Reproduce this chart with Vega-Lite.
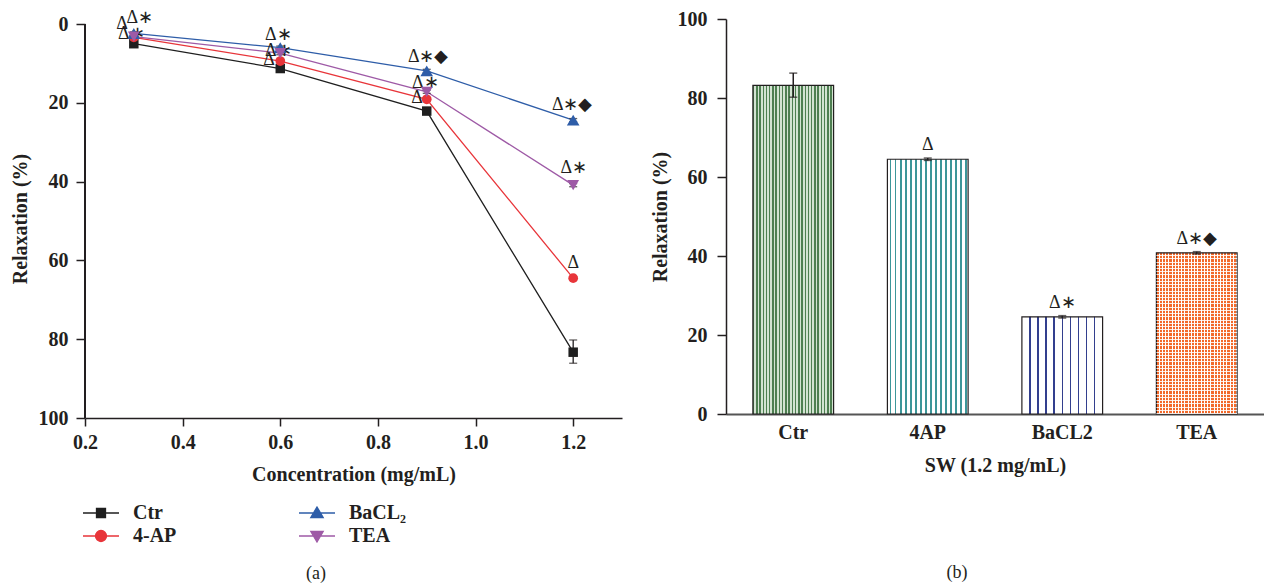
{
 "$schema": "https://vega.github.io/schema/vega-lite/v6.json",
 "padding": {"left": 10, "top": 9, "right": 0, "bottom": 0},
 "background": "white",
 "spacing": 28,
 "config": {
  "view": {"stroke": null},
  "font": "Liberation Serif",
  "axis": {"domainColor": "#231f20", "tickColor": "#231f20", "labelColor": "#231f20", "titleColor": "#231f20", "labelFont": "Liberation Serif", "titleFont": "Liberation Serif", "labelFontWeight": "bold", "titleFontWeight": "bold", "labelFontSize": 20, "titleFontSize": 20, "grid": false, "domainWidth": 1.5, "tickWidth": 1.5, "labelFlush": false},
  "legend": {"labelFont": "Liberation Serif", "labelFontWeight": "bold", "labelFontSize": 20, "labelColor": "#231f20", "padding": 0}
 },
 "datasets": {
  "curve": [
   {"series": "Ctr", "conc": 0.3, "value": 5.0, "lo": 4.6, "hi": 5.4},
   {"series": "Ctr", "conc": 0.6, "value": 11.3, "lo": 10.9, "hi": 11.7},
   {"series": "Ctr", "conc": 0.9, "value": 22.1, "lo": 21.7, "hi": 22.5},
   {"series": "Ctr", "conc": 1.2, "value": 83.3, "lo": 80.2, "hi": 86.1},
   {"series": "4-AP", "conc": 0.3, "value": 3.4, "lo": 3.0, "hi": 3.8},
   {"series": "4-AP", "conc": 0.6, "value": 9.4, "lo": 9.0, "hi": 9.8},
   {"series": "4-AP", "conc": 0.9, "value": 19.1, "lo": 18.7, "hi": 19.5},
   {"series": "4-AP", "conc": 1.2, "value": 64.5, "lo": 64.1, "hi": 64.9},
   {"series": "BaCL₂", "conc": 0.3, "value": 2.4, "lo": 2.0, "hi": 2.8},
   {"series": "BaCL₂", "conc": 0.6, "value": 6.0, "lo": 5.6, "hi": 6.4},
   {"series": "BaCL₂", "conc": 0.9, "value": 11.9, "lo": 11.5, "hi": 12.3},
   {"series": "BaCL₂", "conc": 1.2, "value": 24.4, "lo": 24.0, "hi": 24.8},
   {"series": "TEA", "conc": 0.3, "value": 3.2, "lo": 2.8, "hi": 3.6},
   {"series": "TEA", "conc": 0.6, "value": 7.4, "lo": 7.0, "hi": 7.8},
   {"series": "TEA", "conc": 0.9, "value": 17.2, "lo": 16.8, "hi": 17.6},
   {"series": "TEA", "conc": 1.2, "value": 40.9, "lo": 40.5, "hi": 41.3}
  ],
  "annL": [
   {"x": 0.312, "y": -1.5, "t": "Δ∗"},
   {"x": 0.276, "y": 0.0, "t": "Δ"},
   {"x": 0.295, "y": 2.5, "t": "Δ∗"},
   {"x": 0.596, "y": 2.8, "t": "Δ∗"},
   {"x": 0.596, "y": 6.9, "t": "Δ∗"},
   {"x": 0.577, "y": 9.1, "t": "Δ"},
   {"x": 0.903, "y": 8.3, "t": "Δ∗◆"},
   {"x": 0.897, "y": 15.1, "t": "Δ∗"},
   {"x": 0.88, "y": 18.9, "t": "Δ"},
   {"x": 1.198, "y": 20.6, "t": "Δ∗◆"},
   {"x": 1.201, "y": 36.6, "t": "Δ∗"},
   {"x": 1.2, "y": 60.7, "t": "Δ"}
  ],
  "bars": [
   {"group": "Ctr", "value": 83.2, "lo": 80.2, "hi": 86.3, "label": ""},
   {"group": "4AP", "value": 64.5, "lo": 64.2, "hi": 64.8, "label": "Δ"},
   {"group": "BaCL2", "value": 24.6, "lo": 24.3, "hi": 24.9, "label": "Δ∗"},
   {"group": "TEA", "value": 40.8, "lo": 40.5, "hi": 41.1, "label": "Δ∗◆"}
  ]
 },
 "hconcat": [
  {
   "width": 537,
   "height": 399,
   "title": {"text": "(a)", "orient": "bottom", "anchor": "middle", "frame": "bounds", "offset": 81, "font": "Liberation Serif", "fontSize": 18, "fontWeight": "normal", "color": "#231f20"},
   "data": {"name": "curve"},
   "layer": [
    {
     "mark": {"type": "rule", "color": "#231f20", "strokeWidth": 1.5},
     "encoding": {
      "x": {"datum": 0.2, "type": "quantitative", "scale": {"domain": [0.2, 1.3], "nice": false, "zero": false}, "title": "Concentration (mg/mL)"},
      "y": {"datum": 0, "type": "quantitative", "scale": {"domain": [-1.27, 100], "reverse": true, "nice": false, "zero": false}, "title": "Relaxation (%)"},
      "y2": {"datum": 100}
     }
    },
    {
     "mark": {"type": "line", "strokeWidth": 1.3},
     "encoding": {
      "x": {"field": "conc", "type": "quantitative", "scale": {"domain": [0.2, 1.3], "nice": false, "zero": false}, "title": "Concentration (mg/mL)", "axis": {"values": [0.2, 0.4, 0.6, 0.8, 1.0, 1.2], "format": ".1f", "tickSize": 8, "labelPadding": 6, "titlePadding": 12}},
      "y": {"field": "value", "type": "quantitative", "scale": {"domain": [-1.27, 100], "reverse": true, "nice": false, "zero": false}, "title": "Relaxation (%)", "axis": {"domain": false, "values": [0, 10, 20, 30, 40, 50, 60, 70, 80, 90, 100], "labelExpr": "datum.value % 20 === 0 ? datum.label : ''", "tickSize": {"condition": {"test": "datum.value % 20 === 0", "value": 9}, "value": 6}, "labelPadding": 8, "titlePadding": 8}},
      "color": {"field": "series", "type": "nominal", "scale": {"domain": ["TEA", "Ctr", "4-AP", "BaCL₂"], "range": ["#9e5aa6", "#1f1f1f", "#e8353a", "#2e5da8"]}, "legend": null}
     }
    },
    {
     "mark": {"type": "errorbar", "ticks": {"size": 8}, "color": "#231f20", "thickness": 1.3},
     "encoding": {
      "x": {"field": "conc", "type": "quantitative", "scale": {"domain": [0.2, 1.3], "nice": false, "zero": false}, "title": "Concentration (mg/mL)"},
      "y": {"field": "lo", "type": "quantitative", "scale": {"domain": [-1.27, 100], "reverse": true, "nice": false, "zero": false}, "title": "Relaxation (%)"},
      "y2": {"field": "hi"}
     }
    },
    {
     "data": {"name": "annL"},
     "mark": {"type": "text", "font": "Liberation Serif", "fontSize": 18, "baseline": "middle", "color": "#231f20"},
     "encoding": {
      "x": {"field": "x", "type": "quantitative", "scale": {"domain": [0.2, 1.3], "nice": false, "zero": false}, "title": "Concentration (mg/mL)"},
      "y": {"field": "y", "type": "quantitative", "scale": {"domain": [-1.27, 100], "reverse": true, "nice": false, "zero": false}, "title": "Relaxation (%)"},
      "text": {"field": "t"}
     }
    },
    {
     "mark": {"type": "point", "filled": true, "opacity": 1},
     "encoding": {
      "x": {"field": "conc", "type": "quantitative", "scale": {"domain": [0.2, 1.3], "nice": false, "zero": false}, "title": "Concentration (mg/mL)"},
      "y": {"field": "value", "type": "quantitative", "scale": {"domain": [-1.27, 100], "reverse": true, "nice": false, "zero": false}, "title": "Relaxation (%)"},
      "color": {"field": "series", "type": "nominal", "scale": {"domain": ["TEA", "Ctr", "4-AP", "BaCL₂"], "range": ["#9e5aa6", "#1f1f1f", "#e8353a", "#2e5da8"]}, "legend": null},
      "shape": {"condition": [{"test": "datum.series === 'Ctr'", "value": "square"}, {"test": "datum.series === '4-AP'", "value": "circle"}, {"test": "datum.series === 'BaCL₂'", "value": "triangle-up"}], "value": "triangle-down"},
      "size": {"condition": [{"test": "datum.series === 'Ctr'", "value": 90}, {"test": "datum.series === '4-AP'", "value": 95}, {"test": "datum.series === 'BaCL₂'", "value": 160}], "value": 140}
     }
    },
    {
     "transform": [{"filter": "datum.conc > 10"}],
     "mark": {"type": "point", "filled": true, "opacity": 1},
     "encoding": {
      "x": {"field": "conc", "type": "quantitative", "scale": {"domain": [0.2, 1.3], "nice": false, "zero": false}, "title": "Concentration (mg/mL)"},
      "y": {"field": "value", "type": "quantitative", "scale": {"domain": [-1.27, 100], "reverse": true, "nice": false, "zero": false}, "title": "Relaxation (%)"},
      "fill": {"field": "series", "type": "nominal", "scale": {"domain": ["Ctr", "4-AP", "BaCL₂", "TEA"], "range": ["#1f1f1f", "#e8353a", "#2e5da8", "#9e5aa6"]}, "legend": {"orient": "none", "legendX": 5, "legendY": 483, "columns": 2, "title": null, "symbolSize": 400, "symbolStrokeWidth": 1.3, "symbolOpacity": 1, "labelOffset": 21, "rowPadding": 2, "columnPadding": 119}},
      "stroke": {"field": "series", "type": "nominal", "scale": {"domain": ["Ctr", "4-AP", "BaCL₂", "TEA"], "range": ["#1f1f1f", "#e8353a", "#2e5da8", "#9e5aa6"]}, "legend": {"orient": "none", "legendX": 5, "legendY": 483, "columns": 2, "title": null, "symbolSize": 400, "symbolStrokeWidth": 1.3, "symbolOpacity": 1, "labelOffset": 21, "rowPadding": 2, "columnPadding": 119}},
      "shape": {"field": "series", "type": "nominal", "scale": {"domain": ["Ctr", "4-AP", "BaCL₂", "TEA"], "range": ["M-1.8,0H1.8M-0.45,-0.45H0.45V0.45H-0.45Z", "M-1.8,0H1.8M-0.55,0A0.55,0.55,0,1,0,0.55,0A0.55,0.55,0,1,0,-0.55,0Z", "M-1.8,0H1.8M0,-0.6L0.62,0.45H-0.62Z", "M-1.8,0H1.8M0,0.6L0.62,-0.45H-0.62Z"]}, "legend": {"orient": "none", "legendX": 5, "legendY": 483, "columns": 2, "title": null, "symbolSize": 400, "symbolStrokeWidth": 1.3, "symbolOpacity": 1, "labelOffset": 21, "rowPadding": 2, "columnPadding": 119}}
     }
    }
   ]
  },
  {
   "width": 538,
   "height": 395,
   "title": {"text": "(b)", "orient": "bottom", "anchor": "middle", "frame": "bounds", "offset": 89, "font": "Liberation Serif", "fontSize": 18, "fontWeight": "normal", "color": "#231f20"},
   "data": {"name": "bars"},
   "encoding": {
    "x": {"field": "group", "type": "nominal", "scale": {"domain": ["Ctr", "4AP", "BaCL2", "TEA"], "paddingInner": 0.4, "paddingOuter": 0.2}, "title": "SW (1.2 mg/mL)", "axis": {"ticks": false, "labelAngle": 0, "labelPadding": 8, "titlePadding": 13, "domainColor": "#555555", "domainWidth": 2}},
    "y": {"field": "value", "type": "quantitative", "scale": {"domain": [0, 100], "nice": false}, "title": "Relaxation (%)", "axis": {"values": [0, 20, 40, 60, 80, 100], "tickSize": 9, "labelPadding": 10, "titlePadding": 7}}
   },
   "layer": [
    {
     "transform": [{"filter": "datum.group === 'Ctr'"}],
     "mark": {"type": "bar", "opacity": 1, "stroke": "#231f20", "strokeWidth": 1.2, "fill": {"gradient": "linear", "x1": 0, "y1": 0, "x2": 1, "y2": 0, "stops": [
      {"offset": 0, "color": "#4e7f51"}, {"offset": 0.018, "color": "#4e7f51"}, {"offset": 0.018, "color": "#d3e3d2"}, {"offset": 0.04, "color": "#d3e3d2"},
      {"offset": 0.04, "color": "#4e7f51"}, {"offset": 0.058, "color": "#4e7f51"}, {"offset": 0.058, "color": "#d3e3d2"}, {"offset": 0.08, "color": "#d3e3d2"},
      {"offset": 0.08, "color": "#4e7f51"}, {"offset": 0.098, "color": "#4e7f51"}, {"offset": 0.098, "color": "#d3e3d2"}, {"offset": 0.12, "color": "#d3e3d2"},
      {"offset": 0.12, "color": "#4e7f51"}, {"offset": 0.138, "color": "#4e7f51"}, {"offset": 0.138, "color": "#d3e3d2"}, {"offset": 0.16, "color": "#d3e3d2"},
      {"offset": 0.16, "color": "#4e7f51"}, {"offset": 0.178, "color": "#4e7f51"}, {"offset": 0.178, "color": "#d3e3d2"}, {"offset": 0.2, "color": "#d3e3d2"},
      {"offset": 0.2, "color": "#4e7f51"}, {"offset": 0.218, "color": "#4e7f51"}, {"offset": 0.218, "color": "#d3e3d2"}, {"offset": 0.24, "color": "#d3e3d2"},
      {"offset": 0.24, "color": "#4e7f51"}, {"offset": 0.258, "color": "#4e7f51"}, {"offset": 0.258, "color": "#d3e3d2"}, {"offset": 0.28, "color": "#d3e3d2"},
      {"offset": 0.28, "color": "#4e7f51"}, {"offset": 0.298, "color": "#4e7f51"}, {"offset": 0.298, "color": "#d3e3d2"}, {"offset": 0.32, "color": "#d3e3d2"},
      {"offset": 0.32, "color": "#4e7f51"}, {"offset": 0.338, "color": "#4e7f51"}, {"offset": 0.338, "color": "#d3e3d2"}, {"offset": 0.36, "color": "#d3e3d2"},
      {"offset": 0.36, "color": "#4e7f51"}, {"offset": 0.378, "color": "#4e7f51"}, {"offset": 0.378, "color": "#d3e3d2"}, {"offset": 0.4, "color": "#d3e3d2"},
      {"offset": 0.4, "color": "#4e7f51"}, {"offset": 0.418, "color": "#4e7f51"}, {"offset": 0.418, "color": "#d3e3d2"}, {"offset": 0.44, "color": "#d3e3d2"},
      {"offset": 0.44, "color": "#4e7f51"}, {"offset": 0.458, "color": "#4e7f51"}, {"offset": 0.458, "color": "#d3e3d2"}, {"offset": 0.48, "color": "#d3e3d2"},
      {"offset": 0.48, "color": "#4e7f51"}, {"offset": 0.498, "color": "#4e7f51"}, {"offset": 0.498, "color": "#d3e3d2"}, {"offset": 0.52, "color": "#d3e3d2"},
      {"offset": 0.52, "color": "#4e7f51"}, {"offset": 0.538, "color": "#4e7f51"}, {"offset": 0.538, "color": "#d3e3d2"}, {"offset": 0.56, "color": "#d3e3d2"},
      {"offset": 0.56, "color": "#4e7f51"}, {"offset": 0.578, "color": "#4e7f51"}, {"offset": 0.578, "color": "#d3e3d2"}, {"offset": 0.6, "color": "#d3e3d2"},
      {"offset": 0.6, "color": "#4e7f51"}, {"offset": 0.618, "color": "#4e7f51"}, {"offset": 0.618, "color": "#d3e3d2"}, {"offset": 0.64, "color": "#d3e3d2"},
      {"offset": 0.64, "color": "#4e7f51"}, {"offset": 0.658, "color": "#4e7f51"}, {"offset": 0.658, "color": "#d3e3d2"}, {"offset": 0.68, "color": "#d3e3d2"},
      {"offset": 0.68, "color": "#4e7f51"}, {"offset": 0.698, "color": "#4e7f51"}, {"offset": 0.698, "color": "#d3e3d2"}, {"offset": 0.72, "color": "#d3e3d2"},
      {"offset": 0.72, "color": "#4e7f51"}, {"offset": 0.738, "color": "#4e7f51"}, {"offset": 0.738, "color": "#d3e3d2"}, {"offset": 0.76, "color": "#d3e3d2"},
      {"offset": 0.76, "color": "#4e7f51"}, {"offset": 0.778, "color": "#4e7f51"}, {"offset": 0.778, "color": "#d3e3d2"}, {"offset": 0.8, "color": "#d3e3d2"},
      {"offset": 0.8, "color": "#4e7f51"}, {"offset": 0.818, "color": "#4e7f51"}, {"offset": 0.818, "color": "#d3e3d2"}, {"offset": 0.84, "color": "#d3e3d2"},
      {"offset": 0.84, "color": "#4e7f51"}, {"offset": 0.858, "color": "#4e7f51"}, {"offset": 0.858, "color": "#d3e3d2"}, {"offset": 0.88, "color": "#d3e3d2"},
      {"offset": 0.88, "color": "#4e7f51"}, {"offset": 0.898, "color": "#4e7f51"}, {"offset": 0.898, "color": "#d3e3d2"}, {"offset": 0.92, "color": "#d3e3d2"},
      {"offset": 0.92, "color": "#4e7f51"}, {"offset": 0.938, "color": "#4e7f51"}, {"offset": 0.938, "color": "#d3e3d2"}, {"offset": 0.96, "color": "#d3e3d2"},
      {"offset": 0.96, "color": "#4e7f51"}, {"offset": 0.978, "color": "#4e7f51"}, {"offset": 0.978, "color": "#d3e3d2"}, {"offset": 1, "color": "#d3e3d2"}
     ]}}
    },
    {
     "transform": [{"filter": "datum.group === '4AP'"}],
     "mark": {"type": "bar", "opacity": 1, "stroke": "#231f20", "strokeWidth": 1.2, "fill": {"gradient": "linear", "x1": 0, "y1": 0, "x2": 1, "y2": 0, "stops": [
      {"offset": 0, "color": "#ffffff"},
      {"offset": 0.03, "color": "#ffffff"}, {"offset": 0.03, "color": "#3d9699"}, {"offset": 0.05, "color": "#3d9699"}, {"offset": 0.05, "color": "#ffffff"},
      {"offset": 0.0925, "color": "#ffffff"}, {"offset": 0.0925, "color": "#3d9699"}, {"offset": 0.1125, "color": "#3d9699"}, {"offset": 0.1125, "color": "#ffffff"},
      {"offset": 0.155, "color": "#ffffff"}, {"offset": 0.155, "color": "#3d9699"}, {"offset": 0.175, "color": "#3d9699"}, {"offset": 0.175, "color": "#ffffff"},
      {"offset": 0.2175, "color": "#ffffff"}, {"offset": 0.2175, "color": "#3d9699"}, {"offset": 0.2375, "color": "#3d9699"}, {"offset": 0.2375, "color": "#ffffff"},
      {"offset": 0.28, "color": "#ffffff"}, {"offset": 0.28, "color": "#3d9699"}, {"offset": 0.3, "color": "#3d9699"}, {"offset": 0.3, "color": "#ffffff"},
      {"offset": 0.3425, "color": "#ffffff"}, {"offset": 0.3425, "color": "#3d9699"}, {"offset": 0.3625, "color": "#3d9699"}, {"offset": 0.3625, "color": "#ffffff"},
      {"offset": 0.405, "color": "#ffffff"}, {"offset": 0.405, "color": "#3d9699"}, {"offset": 0.425, "color": "#3d9699"}, {"offset": 0.425, "color": "#ffffff"},
      {"offset": 0.4675, "color": "#ffffff"}, {"offset": 0.4675, "color": "#3d9699"}, {"offset": 0.4875, "color": "#3d9699"}, {"offset": 0.4875, "color": "#ffffff"},
      {"offset": 0.53, "color": "#ffffff"}, {"offset": 0.53, "color": "#3d9699"}, {"offset": 0.55, "color": "#3d9699"}, {"offset": 0.55, "color": "#ffffff"},
      {"offset": 0.5925, "color": "#ffffff"}, {"offset": 0.5925, "color": "#3d9699"}, {"offset": 0.6125, "color": "#3d9699"}, {"offset": 0.6125, "color": "#ffffff"},
      {"offset": 0.655, "color": "#ffffff"}, {"offset": 0.655, "color": "#3d9699"}, {"offset": 0.675, "color": "#3d9699"}, {"offset": 0.675, "color": "#ffffff"},
      {"offset": 0.7175, "color": "#ffffff"}, {"offset": 0.7175, "color": "#3d9699"}, {"offset": 0.7375, "color": "#3d9699"}, {"offset": 0.7375, "color": "#ffffff"},
      {"offset": 0.78, "color": "#ffffff"}, {"offset": 0.78, "color": "#3d9699"}, {"offset": 0.8, "color": "#3d9699"}, {"offset": 0.8, "color": "#ffffff"},
      {"offset": 0.8425, "color": "#ffffff"}, {"offset": 0.8425, "color": "#3d9699"}, {"offset": 0.8625, "color": "#3d9699"}, {"offset": 0.8625, "color": "#ffffff"},
      {"offset": 0.905, "color": "#ffffff"}, {"offset": 0.905, "color": "#3d9699"}, {"offset": 0.925, "color": "#3d9699"}, {"offset": 0.925, "color": "#ffffff"},
      {"offset": 0.9675, "color": "#ffffff"}, {"offset": 0.9675, "color": "#3d9699"}, {"offset": 0.9875, "color": "#3d9699"}, {"offset": 0.9875, "color": "#ffffff"},
      {"offset": 1, "color": "#ffffff"}
     ]}}
    },
    {
     "transform": [{"filter": "datum.group === 'BaCL2'"}],
     "mark": {"type": "bar", "opacity": 1, "stroke": "#231f20", "strokeWidth": 1.2, "fill": {"gradient": "linear", "x1": 0, "y1": 0, "x2": 1, "y2": 0, "stops": [
      {"offset": 0, "color": "#ffffff"},
      {"offset": 0.091, "color": "#ffffff"}, {"offset": 0.091, "color": "#333f8e"}, {"offset": 0.109, "color": "#333f8e"}, {"offset": 0.109, "color": "#ffffff"},
      {"offset": 0.191, "color": "#ffffff"}, {"offset": 0.191, "color": "#333f8e"}, {"offset": 0.209, "color": "#333f8e"}, {"offset": 0.209, "color": "#ffffff"},
      {"offset": 0.291, "color": "#ffffff"}, {"offset": 0.291, "color": "#333f8e"}, {"offset": 0.309, "color": "#333f8e"}, {"offset": 0.309, "color": "#ffffff"},
      {"offset": 0.391, "color": "#ffffff"}, {"offset": 0.391, "color": "#333f8e"}, {"offset": 0.409, "color": "#333f8e"}, {"offset": 0.409, "color": "#ffffff"},
      {"offset": 0.491, "color": "#ffffff"}, {"offset": 0.491, "color": "#333f8e"}, {"offset": 0.509, "color": "#333f8e"}, {"offset": 0.509, "color": "#ffffff"},
      {"offset": 0.591, "color": "#ffffff"}, {"offset": 0.591, "color": "#333f8e"}, {"offset": 0.609, "color": "#333f8e"}, {"offset": 0.609, "color": "#ffffff"},
      {"offset": 0.691, "color": "#ffffff"}, {"offset": 0.691, "color": "#333f8e"}, {"offset": 0.709, "color": "#333f8e"}, {"offset": 0.709, "color": "#ffffff"},
      {"offset": 0.791, "color": "#ffffff"}, {"offset": 0.791, "color": "#333f8e"}, {"offset": 0.809, "color": "#333f8e"}, {"offset": 0.809, "color": "#ffffff"},
      {"offset": 0.891, "color": "#ffffff"}, {"offset": 0.891, "color": "#333f8e"}, {"offset": 0.909, "color": "#333f8e"}, {"offset": 0.909, "color": "#ffffff"},
      {"offset": 1, "color": "#ffffff"}
     ]}}
    },
    {
     "transform": [{"filter": "datum.group === 'TEA'"}],
     "mark": {"type": "bar", "opacity": 1, "stroke": "#231f20", "strokeWidth": 1.2, "fill": {"gradient": "linear", "x1": 0, "y1": 0, "x2": 1, "y2": 0, "stops": [
      {"offset": 0, "color": "#f2692a"}, {"offset": 0.028, "color": "#f2692a"}, {"offset": 0.028, "color": "#ffffff"}, {"offset": 0.04, "color": "#ffffff"},
      {"offset": 0.04, "color": "#f2692a"}, {"offset": 0.068, "color": "#f2692a"}, {"offset": 0.068, "color": "#ffffff"}, {"offset": 0.08, "color": "#ffffff"},
      {"offset": 0.08, "color": "#f2692a"}, {"offset": 0.108, "color": "#f2692a"}, {"offset": 0.108, "color": "#ffffff"}, {"offset": 0.12, "color": "#ffffff"},
      {"offset": 0.12, "color": "#f2692a"}, {"offset": 0.148, "color": "#f2692a"}, {"offset": 0.148, "color": "#ffffff"}, {"offset": 0.16, "color": "#ffffff"},
      {"offset": 0.16, "color": "#f2692a"}, {"offset": 0.188, "color": "#f2692a"}, {"offset": 0.188, "color": "#ffffff"}, {"offset": 0.2, "color": "#ffffff"},
      {"offset": 0.2, "color": "#f2692a"}, {"offset": 0.228, "color": "#f2692a"}, {"offset": 0.228, "color": "#ffffff"}, {"offset": 0.24, "color": "#ffffff"},
      {"offset": 0.24, "color": "#f2692a"}, {"offset": 0.268, "color": "#f2692a"}, {"offset": 0.268, "color": "#ffffff"}, {"offset": 0.28, "color": "#ffffff"},
      {"offset": 0.28, "color": "#f2692a"}, {"offset": 0.308, "color": "#f2692a"}, {"offset": 0.308, "color": "#ffffff"}, {"offset": 0.32, "color": "#ffffff"},
      {"offset": 0.32, "color": "#f2692a"}, {"offset": 0.348, "color": "#f2692a"}, {"offset": 0.348, "color": "#ffffff"}, {"offset": 0.36, "color": "#ffffff"},
      {"offset": 0.36, "color": "#f2692a"}, {"offset": 0.388, "color": "#f2692a"}, {"offset": 0.388, "color": "#ffffff"}, {"offset": 0.4, "color": "#ffffff"},
      {"offset": 0.4, "color": "#f2692a"}, {"offset": 0.428, "color": "#f2692a"}, {"offset": 0.428, "color": "#ffffff"}, {"offset": 0.44, "color": "#ffffff"},
      {"offset": 0.44, "color": "#f2692a"}, {"offset": 0.468, "color": "#f2692a"}, {"offset": 0.468, "color": "#ffffff"}, {"offset": 0.48, "color": "#ffffff"},
      {"offset": 0.48, "color": "#f2692a"}, {"offset": 0.508, "color": "#f2692a"}, {"offset": 0.508, "color": "#ffffff"}, {"offset": 0.52, "color": "#ffffff"},
      {"offset": 0.52, "color": "#f2692a"}, {"offset": 0.548, "color": "#f2692a"}, {"offset": 0.548, "color": "#ffffff"}, {"offset": 0.56, "color": "#ffffff"},
      {"offset": 0.56, "color": "#f2692a"}, {"offset": 0.588, "color": "#f2692a"}, {"offset": 0.588, "color": "#ffffff"}, {"offset": 0.6, "color": "#ffffff"},
      {"offset": 0.6, "color": "#f2692a"}, {"offset": 0.628, "color": "#f2692a"}, {"offset": 0.628, "color": "#ffffff"}, {"offset": 0.64, "color": "#ffffff"},
      {"offset": 0.64, "color": "#f2692a"}, {"offset": 0.668, "color": "#f2692a"}, {"offset": 0.668, "color": "#ffffff"}, {"offset": 0.68, "color": "#ffffff"},
      {"offset": 0.68, "color": "#f2692a"}, {"offset": 0.708, "color": "#f2692a"}, {"offset": 0.708, "color": "#ffffff"}, {"offset": 0.72, "color": "#ffffff"},
      {"offset": 0.72, "color": "#f2692a"}, {"offset": 0.748, "color": "#f2692a"}, {"offset": 0.748, "color": "#ffffff"}, {"offset": 0.76, "color": "#ffffff"},
      {"offset": 0.76, "color": "#f2692a"}, {"offset": 0.788, "color": "#f2692a"}, {"offset": 0.788, "color": "#ffffff"}, {"offset": 0.8, "color": "#ffffff"},
      {"offset": 0.8, "color": "#f2692a"}, {"offset": 0.828, "color": "#f2692a"}, {"offset": 0.828, "color": "#ffffff"}, {"offset": 0.84, "color": "#ffffff"},
      {"offset": 0.84, "color": "#f2692a"}, {"offset": 0.868, "color": "#f2692a"}, {"offset": 0.868, "color": "#ffffff"}, {"offset": 0.88, "color": "#ffffff"},
      {"offset": 0.88, "color": "#f2692a"}, {"offset": 0.908, "color": "#f2692a"}, {"offset": 0.908, "color": "#ffffff"}, {"offset": 0.92, "color": "#ffffff"},
      {"offset": 0.92, "color": "#f2692a"}, {"offset": 0.948, "color": "#f2692a"}, {"offset": 0.948, "color": "#ffffff"}, {"offset": 0.96, "color": "#ffffff"},
      {"offset": 0.96, "color": "#f2692a"}, {"offset": 0.988, "color": "#f2692a"}, {"offset": 0.988, "color": "#ffffff"}, {"offset": 1, "color": "#ffffff"}
     ]}}
    },
    {
     "transform": [{"filter": "datum.group === 'TEA'"}],
     "mark": {"type": "bar", "opacity": 1, "strokeWidth": 0, "fill": {"gradient": "linear", "x1": 0, "y1": 0, "x2": 0, "y2": 1, "stops": [
      {"offset": 0, "color": "rgba(255,255,255,0)"}, {"offset": 0.014, "color": "rgba(255,255,255,0)"}, {"offset": 0.014, "color": "rgba(255,255,255,0.85)"}, {"offset": 0.02, "color": "rgba(255,255,255,0.85)"},
      {"offset": 0.02, "color": "rgba(255,255,255,0)"}, {"offset": 0.034, "color": "rgba(255,255,255,0)"}, {"offset": 0.034, "color": "rgba(255,255,255,0.85)"}, {"offset": 0.04, "color": "rgba(255,255,255,0.85)"},
      {"offset": 0.04, "color": "rgba(255,255,255,0)"}, {"offset": 0.054, "color": "rgba(255,255,255,0)"}, {"offset": 0.054, "color": "rgba(255,255,255,0.85)"}, {"offset": 0.06, "color": "rgba(255,255,255,0.85)"},
      {"offset": 0.06, "color": "rgba(255,255,255,0)"}, {"offset": 0.074, "color": "rgba(255,255,255,0)"}, {"offset": 0.074, "color": "rgba(255,255,255,0.85)"}, {"offset": 0.08, "color": "rgba(255,255,255,0.85)"},
      {"offset": 0.08, "color": "rgba(255,255,255,0)"}, {"offset": 0.094, "color": "rgba(255,255,255,0)"}, {"offset": 0.094, "color": "rgba(255,255,255,0.85)"}, {"offset": 0.1, "color": "rgba(255,255,255,0.85)"},
      {"offset": 0.1, "color": "rgba(255,255,255,0)"}, {"offset": 0.114, "color": "rgba(255,255,255,0)"}, {"offset": 0.114, "color": "rgba(255,255,255,0.85)"}, {"offset": 0.12, "color": "rgba(255,255,255,0.85)"},
      {"offset": 0.12, "color": "rgba(255,255,255,0)"}, {"offset": 0.134, "color": "rgba(255,255,255,0)"}, {"offset": 0.134, "color": "rgba(255,255,255,0.85)"}, {"offset": 0.14, "color": "rgba(255,255,255,0.85)"},
      {"offset": 0.14, "color": "rgba(255,255,255,0)"}, {"offset": 0.154, "color": "rgba(255,255,255,0)"}, {"offset": 0.154, "color": "rgba(255,255,255,0.85)"}, {"offset": 0.16, "color": "rgba(255,255,255,0.85)"},
      {"offset": 0.16, "color": "rgba(255,255,255,0)"}, {"offset": 0.174, "color": "rgba(255,255,255,0)"}, {"offset": 0.174, "color": "rgba(255,255,255,0.85)"}, {"offset": 0.18, "color": "rgba(255,255,255,0.85)"},
      {"offset": 0.18, "color": "rgba(255,255,255,0)"}, {"offset": 0.194, "color": "rgba(255,255,255,0)"}, {"offset": 0.194, "color": "rgba(255,255,255,0.85)"}, {"offset": 0.2, "color": "rgba(255,255,255,0.85)"},
      {"offset": 0.2, "color": "rgba(255,255,255,0)"}, {"offset": 0.214, "color": "rgba(255,255,255,0)"}, {"offset": 0.214, "color": "rgba(255,255,255,0.85)"}, {"offset": 0.22, "color": "rgba(255,255,255,0.85)"},
      {"offset": 0.22, "color": "rgba(255,255,255,0)"}, {"offset": 0.234, "color": "rgba(255,255,255,0)"}, {"offset": 0.234, "color": "rgba(255,255,255,0.85)"}, {"offset": 0.24, "color": "rgba(255,255,255,0.85)"},
      {"offset": 0.24, "color": "rgba(255,255,255,0)"}, {"offset": 0.254, "color": "rgba(255,255,255,0)"}, {"offset": 0.254, "color": "rgba(255,255,255,0.85)"}, {"offset": 0.26, "color": "rgba(255,255,255,0.85)"},
      {"offset": 0.26, "color": "rgba(255,255,255,0)"}, {"offset": 0.274, "color": "rgba(255,255,255,0)"}, {"offset": 0.274, "color": "rgba(255,255,255,0.85)"}, {"offset": 0.28, "color": "rgba(255,255,255,0.85)"},
      {"offset": 0.28, "color": "rgba(255,255,255,0)"}, {"offset": 0.294, "color": "rgba(255,255,255,0)"}, {"offset": 0.294, "color": "rgba(255,255,255,0.85)"}, {"offset": 0.3, "color": "rgba(255,255,255,0.85)"},
      {"offset": 0.3, "color": "rgba(255,255,255,0)"}, {"offset": 0.314, "color": "rgba(255,255,255,0)"}, {"offset": 0.314, "color": "rgba(255,255,255,0.85)"}, {"offset": 0.32, "color": "rgba(255,255,255,0.85)"},
      {"offset": 0.32, "color": "rgba(255,255,255,0)"}, {"offset": 0.334, "color": "rgba(255,255,255,0)"}, {"offset": 0.334, "color": "rgba(255,255,255,0.85)"}, {"offset": 0.34, "color": "rgba(255,255,255,0.85)"},
      {"offset": 0.34, "color": "rgba(255,255,255,0)"}, {"offset": 0.354, "color": "rgba(255,255,255,0)"}, {"offset": 0.354, "color": "rgba(255,255,255,0.85)"}, {"offset": 0.36, "color": "rgba(255,255,255,0.85)"},
      {"offset": 0.36, "color": "rgba(255,255,255,0)"}, {"offset": 0.374, "color": "rgba(255,255,255,0)"}, {"offset": 0.374, "color": "rgba(255,255,255,0.85)"}, {"offset": 0.38, "color": "rgba(255,255,255,0.85)"},
      {"offset": 0.38, "color": "rgba(255,255,255,0)"}, {"offset": 0.394, "color": "rgba(255,255,255,0)"}, {"offset": 0.394, "color": "rgba(255,255,255,0.85)"}, {"offset": 0.4, "color": "rgba(255,255,255,0.85)"},
      {"offset": 0.4, "color": "rgba(255,255,255,0)"}, {"offset": 0.414, "color": "rgba(255,255,255,0)"}, {"offset": 0.414, "color": "rgba(255,255,255,0.85)"}, {"offset": 0.42, "color": "rgba(255,255,255,0.85)"},
      {"offset": 0.42, "color": "rgba(255,255,255,0)"}, {"offset": 0.434, "color": "rgba(255,255,255,0)"}, {"offset": 0.434, "color": "rgba(255,255,255,0.85)"}, {"offset": 0.44, "color": "rgba(255,255,255,0.85)"},
      {"offset": 0.44, "color": "rgba(255,255,255,0)"}, {"offset": 0.454, "color": "rgba(255,255,255,0)"}, {"offset": 0.454, "color": "rgba(255,255,255,0.85)"}, {"offset": 0.46, "color": "rgba(255,255,255,0.85)"},
      {"offset": 0.46, "color": "rgba(255,255,255,0)"}, {"offset": 0.474, "color": "rgba(255,255,255,0)"}, {"offset": 0.474, "color": "rgba(255,255,255,0.85)"}, {"offset": 0.48, "color": "rgba(255,255,255,0.85)"},
      {"offset": 0.48, "color": "rgba(255,255,255,0)"}, {"offset": 0.494, "color": "rgba(255,255,255,0)"}, {"offset": 0.494, "color": "rgba(255,255,255,0.85)"}, {"offset": 0.5, "color": "rgba(255,255,255,0.85)"},
      {"offset": 0.5, "color": "rgba(255,255,255,0)"}, {"offset": 0.514, "color": "rgba(255,255,255,0)"}, {"offset": 0.514, "color": "rgba(255,255,255,0.85)"}, {"offset": 0.52, "color": "rgba(255,255,255,0.85)"},
      {"offset": 0.52, "color": "rgba(255,255,255,0)"}, {"offset": 0.534, "color": "rgba(255,255,255,0)"}, {"offset": 0.534, "color": "rgba(255,255,255,0.85)"}, {"offset": 0.54, "color": "rgba(255,255,255,0.85)"},
      {"offset": 0.54, "color": "rgba(255,255,255,0)"}, {"offset": 0.554, "color": "rgba(255,255,255,0)"}, {"offset": 0.554, "color": "rgba(255,255,255,0.85)"}, {"offset": 0.56, "color": "rgba(255,255,255,0.85)"},
      {"offset": 0.56, "color": "rgba(255,255,255,0)"}, {"offset": 0.574, "color": "rgba(255,255,255,0)"}, {"offset": 0.574, "color": "rgba(255,255,255,0.85)"}, {"offset": 0.58, "color": "rgba(255,255,255,0.85)"},
      {"offset": 0.58, "color": "rgba(255,255,255,0)"}, {"offset": 0.594, "color": "rgba(255,255,255,0)"}, {"offset": 0.594, "color": "rgba(255,255,255,0.85)"}, {"offset": 0.6, "color": "rgba(255,255,255,0.85)"},
      {"offset": 0.6, "color": "rgba(255,255,255,0)"}, {"offset": 0.614, "color": "rgba(255,255,255,0)"}, {"offset": 0.614, "color": "rgba(255,255,255,0.85)"}, {"offset": 0.62, "color": "rgba(255,255,255,0.85)"},
      {"offset": 0.62, "color": "rgba(255,255,255,0)"}, {"offset": 0.634, "color": "rgba(255,255,255,0)"}, {"offset": 0.634, "color": "rgba(255,255,255,0.85)"}, {"offset": 0.64, "color": "rgba(255,255,255,0.85)"},
      {"offset": 0.64, "color": "rgba(255,255,255,0)"}, {"offset": 0.654, "color": "rgba(255,255,255,0)"}, {"offset": 0.654, "color": "rgba(255,255,255,0.85)"}, {"offset": 0.66, "color": "rgba(255,255,255,0.85)"},
      {"offset": 0.66, "color": "rgba(255,255,255,0)"}, {"offset": 0.674, "color": "rgba(255,255,255,0)"}, {"offset": 0.674, "color": "rgba(255,255,255,0.85)"}, {"offset": 0.68, "color": "rgba(255,255,255,0.85)"},
      {"offset": 0.68, "color": "rgba(255,255,255,0)"}, {"offset": 0.694, "color": "rgba(255,255,255,0)"}, {"offset": 0.694, "color": "rgba(255,255,255,0.85)"}, {"offset": 0.7, "color": "rgba(255,255,255,0.85)"},
      {"offset": 0.7, "color": "rgba(255,255,255,0)"}, {"offset": 0.714, "color": "rgba(255,255,255,0)"}, {"offset": 0.714, "color": "rgba(255,255,255,0.85)"}, {"offset": 0.72, "color": "rgba(255,255,255,0.85)"},
      {"offset": 0.72, "color": "rgba(255,255,255,0)"}, {"offset": 0.734, "color": "rgba(255,255,255,0)"}, {"offset": 0.734, "color": "rgba(255,255,255,0.85)"}, {"offset": 0.74, "color": "rgba(255,255,255,0.85)"},
      {"offset": 0.74, "color": "rgba(255,255,255,0)"}, {"offset": 0.754, "color": "rgba(255,255,255,0)"}, {"offset": 0.754, "color": "rgba(255,255,255,0.85)"}, {"offset": 0.76, "color": "rgba(255,255,255,0.85)"},
      {"offset": 0.76, "color": "rgba(255,255,255,0)"}, {"offset": 0.774, "color": "rgba(255,255,255,0)"}, {"offset": 0.774, "color": "rgba(255,255,255,0.85)"}, {"offset": 0.78, "color": "rgba(255,255,255,0.85)"},
      {"offset": 0.78, "color": "rgba(255,255,255,0)"}, {"offset": 0.794, "color": "rgba(255,255,255,0)"}, {"offset": 0.794, "color": "rgba(255,255,255,0.85)"}, {"offset": 0.8, "color": "rgba(255,255,255,0.85)"},
      {"offset": 0.8, "color": "rgba(255,255,255,0)"}, {"offset": 0.814, "color": "rgba(255,255,255,0)"}, {"offset": 0.814, "color": "rgba(255,255,255,0.85)"}, {"offset": 0.82, "color": "rgba(255,255,255,0.85)"},
      {"offset": 0.82, "color": "rgba(255,255,255,0)"}, {"offset": 0.834, "color": "rgba(255,255,255,0)"}, {"offset": 0.834, "color": "rgba(255,255,255,0.85)"}, {"offset": 0.84, "color": "rgba(255,255,255,0.85)"},
      {"offset": 0.84, "color": "rgba(255,255,255,0)"}, {"offset": 0.854, "color": "rgba(255,255,255,0)"}, {"offset": 0.854, "color": "rgba(255,255,255,0.85)"}, {"offset": 0.86, "color": "rgba(255,255,255,0.85)"},
      {"offset": 0.86, "color": "rgba(255,255,255,0)"}, {"offset": 0.874, "color": "rgba(255,255,255,0)"}, {"offset": 0.874, "color": "rgba(255,255,255,0.85)"}, {"offset": 0.88, "color": "rgba(255,255,255,0.85)"},
      {"offset": 0.88, "color": "rgba(255,255,255,0)"}, {"offset": 0.894, "color": "rgba(255,255,255,0)"}, {"offset": 0.894, "color": "rgba(255,255,255,0.85)"}, {"offset": 0.9, "color": "rgba(255,255,255,0.85)"},
      {"offset": 0.9, "color": "rgba(255,255,255,0)"}, {"offset": 0.914, "color": "rgba(255,255,255,0)"}, {"offset": 0.914, "color": "rgba(255,255,255,0.85)"}, {"offset": 0.92, "color": "rgba(255,255,255,0.85)"},
      {"offset": 0.92, "color": "rgba(255,255,255,0)"}, {"offset": 0.934, "color": "rgba(255,255,255,0)"}, {"offset": 0.934, "color": "rgba(255,255,255,0.85)"}, {"offset": 0.94, "color": "rgba(255,255,255,0.85)"},
      {"offset": 0.94, "color": "rgba(255,255,255,0)"}, {"offset": 0.954, "color": "rgba(255,255,255,0)"}, {"offset": 0.954, "color": "rgba(255,255,255,0.85)"}, {"offset": 0.96, "color": "rgba(255,255,255,0.85)"},
      {"offset": 0.96, "color": "rgba(255,255,255,0)"}, {"offset": 0.974, "color": "rgba(255,255,255,0)"}, {"offset": 0.974, "color": "rgba(255,255,255,0.85)"}, {"offset": 0.98, "color": "rgba(255,255,255,0.85)"},
      {"offset": 0.98, "color": "rgba(255,255,255,0)"}, {"offset": 0.994, "color": "rgba(255,255,255,0)"}, {"offset": 0.994, "color": "rgba(255,255,255,0.85)"}, {"offset": 1, "color": "rgba(255,255,255,0.85)"}
     ]}}
    },
    {
     "mark": {"type": "errorbar", "ticks": {"size": 8}, "color": "#231f20", "thickness": 1.5},
     "encoding": {
      "y": {"field": "lo", "type": "quantitative", "scale": {"domain": [0, 100], "nice": false}, "title": "Relaxation (%)"},
      "y2": {"field": "hi"}
     }
    },
    {
     "mark": {"type": "text", "dy": -14, "font": "Liberation Serif", "fontSize": 18, "baseline": "middle", "color": "#231f20"},
     "encoding": {"text": {"field": "label"}}
    }
   ]
  }
 ]
}
